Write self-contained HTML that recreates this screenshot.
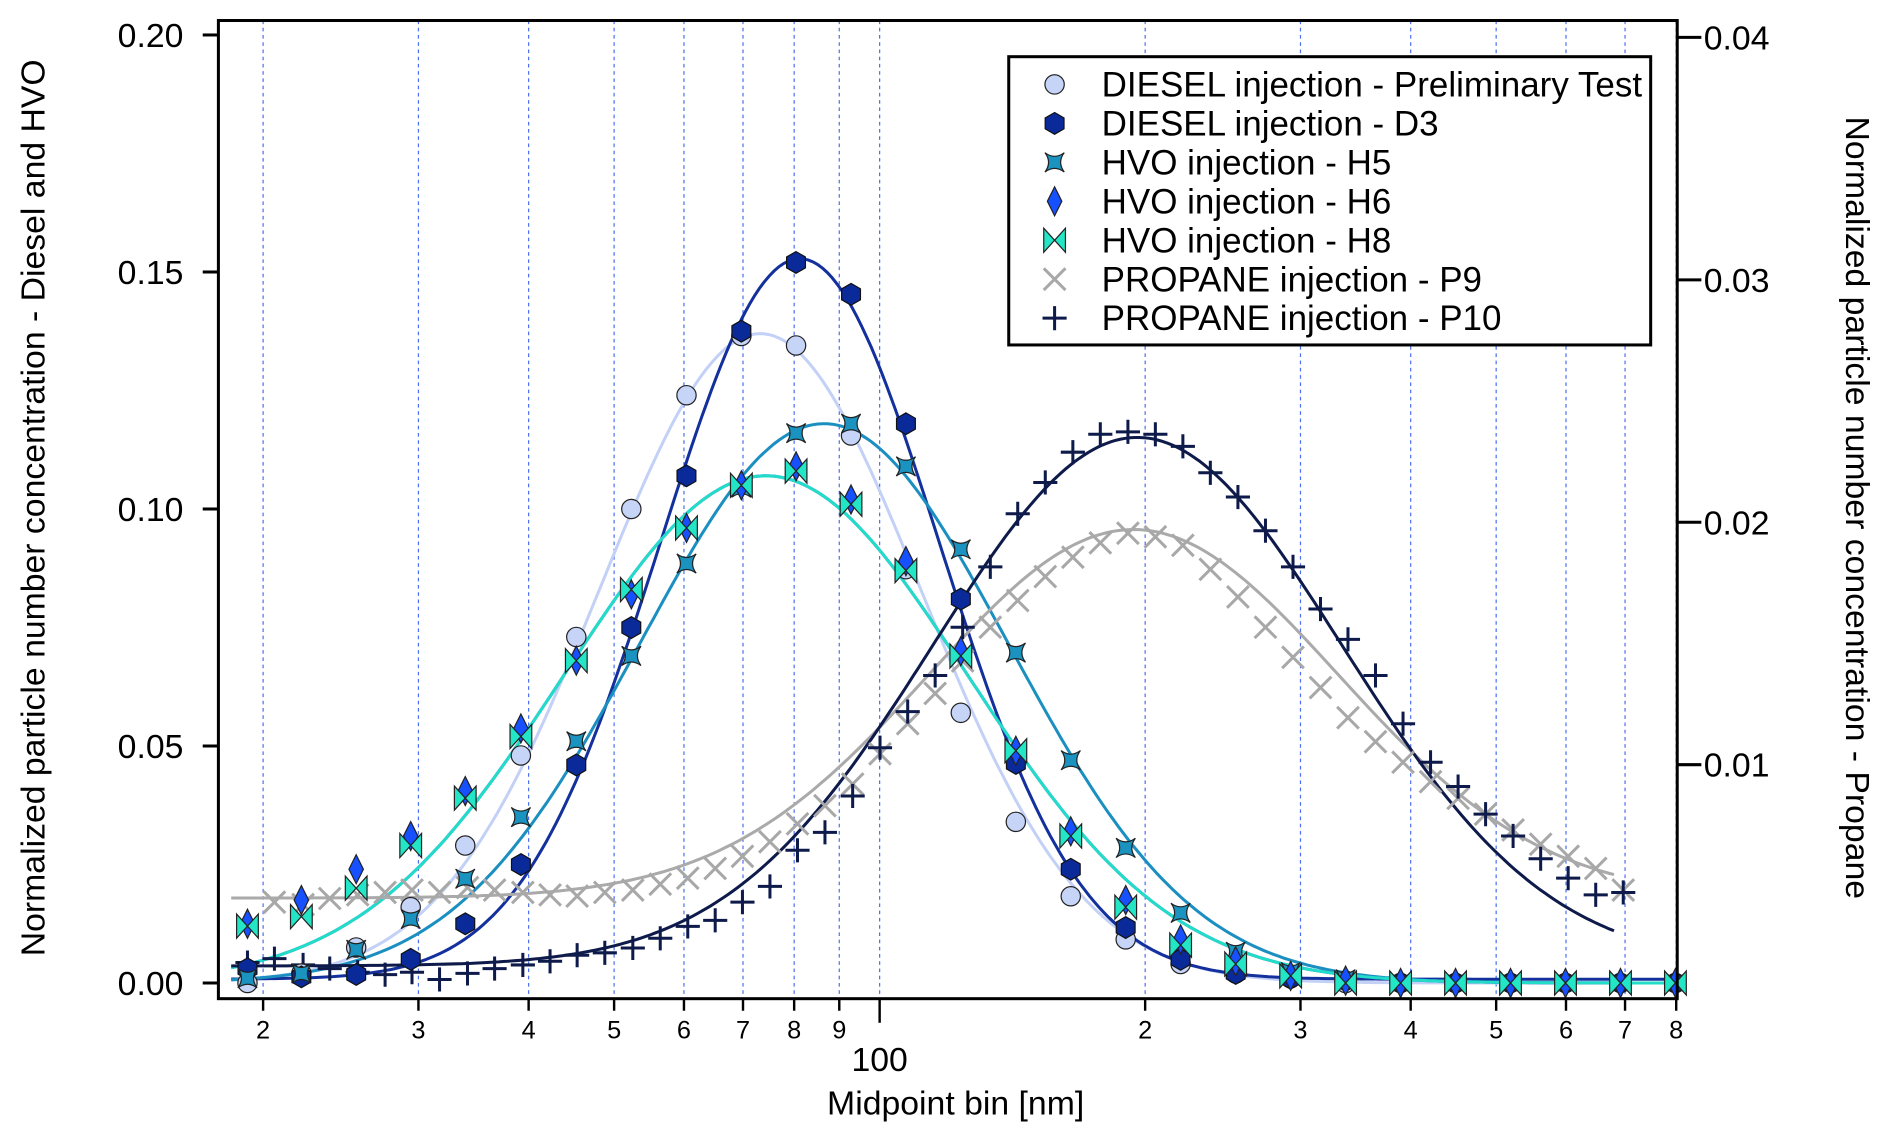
<!DOCTYPE html>
<html><head><meta charset="utf-8"><style>
html,body{margin:0;padding:0;background:#fff;}
svg{display:block;font-family:"Liberation Sans",Arial,sans-serif;}
</style></head><body>
<svg id="chart" width="1892" height="1141" viewBox="0 0 1568 946" preserveAspectRatio="none" xmlns="http://www.w3.org/2000/svg">
<g id="grid"></g>
<g id="fits"></g>
<g id="marks"></g>
<g id="axes"></g>
<text transform="translate(37,421) rotate(-90)" text-anchor="middle" font-size="28">Normalized particle number concentration - Diesel and HVO</text>
<text transform="translate(1530,421) rotate(90)" text-anchor="middle" font-size="28">Normalized particle number concentration - Propane</text>
<text x="792" y="924" text-anchor="middle" font-size="28">Midpoint bin [nm]</text>
<g id="legend"></g>
</svg>
<script>
const NS="http://www.w3.org/2000/svg";
// ---- data ----
const bins=[19.2,22.1,25.5,29.4,33.9,39.2,45.3,52.3,60.4,69.7,80.4,92.8,107.1,123.6,142.7,164.7,190.1,219.4,253.3,292.4,337.5,389.6,449.7,519.1,599.2,691.7,798.4];
const prelim=[0.0,0.002,0.0075,0.016,0.029,0.048,0.073,0.100,0.124,0.1365,0.1345,0.1155,0.0873,0.057,0.034,0.0183,0.0092,0.004,0.002,0.001,0,0,0,0,0,0,0];
const d3=[0.003,0.0013,0.0018,0.005,0.0125,0.025,0.046,0.075,0.107,0.1375,0.152,0.1453,0.118,0.081,0.0463,0.024,0.0117,0.005,0.002,0.001,0.0005,0,0,0,0,0,0];
const h5=[0.001,0.002,0.007,0.0135,0.022,0.035,0.051,0.069,0.0885,0.1045,0.116,0.118,0.109,0.0915,0.0697,0.047,0.0285,0.0148,0.0066,0.0023,0.0008,0,0,0,0,0,0];
const h6=[0.0125,0.0175,0.024,0.031,0.0405,0.0537,0.068,0.082,0.096,0.105,0.109,0.102,0.089,0.070,0.049,0.032,0.0175,0.0092,0.0046,0.0015,0.0005,0,0,0,0,0,0];
const h8=[0.012,0.014,0.020,0.029,0.039,0.052,0.068,0.083,0.096,0.105,0.108,0.101,0.087,0.069,0.049,0.031,0.016,0.008,0.004,0.0015,0,0,0,0,0,0,0];
const propBins=[19.2,20.6,22.2,23.8,25.6,27.5,29.5,31.7,34.1,36.6,39.4,42.3,45.4,48.8,52.5,56.4,60.6,65.1,69.9,75.1,80.7,86.7,93.2,100.1,107.6,115.6,124.2,133.5,143.4,154.1,165.6,177.9,191.2,205.4,220.7,237.1,254.8,273.8,294.2,316.1,339.6,364.9,392.1,421.3,452.7,486.4,522.6,561.6,603.4,648.4,696.7];
const p9=[null,4.33,4.23,4.48,4.63,4.73,4.83,4.73,4.93,4.83,4.73,4.63,4.58,4.73,4.83,5.07,5.32,5.72,6.22,6.82,7.56,8.31,9.20,10.45,11.69,12.94,14.28,15.67,16.77,17.76,18.56,19.15,19.55,19.40,19.05,18.06,16.92,15.67,14.43,13.18,11.94,10.95,10.10,9.30,8.61,7.96,7.31,6.72,6.22,5.72,4.83]; // x1e-3
const p10=[1.84,2.0,1.74,1.59,1.44,1.34,1.44,1.14,1.39,1.59,1.74,1.89,2.14,2.24,2.44,2.84,3.33,3.58,4.33,4.98,6.47,7.21,8.71,10.70,12.19,13.68,15.67,18.16,20.35,21.64,22.89,23.63,23.73,23.63,23.13,22.04,21.04,19.65,18.16,16.42,15.17,13.68,11.69,10.10,9.10,7.96,7.06,6.12,5.32,4.63,4.73]; // x1e-3
// log-normal fit parameters: amplitude, mode (nm), sigma (log10), baseline
const fitNames=["prelim","d3","h5","h6","h8","p9","p10"];
const fitAmp=[0.137,0.152,0.118,0.107,0.107,0.0152,0.0218];
const fitMode=[73.2,81.2,86.5,74.3,74.3,194,196];
const fitSigma=[0.182,0.158,0.209,0.229,0.229,0.232,0.232];
const fitBase=[0,0.0008,0,0,0,0.0045,0.0017];
const leftTicks=[0,0.05,0.10,0.15,0.20];
const leftTickLabels=["0.00","0.05","0.10","0.15","0.20"];
const rightTicks=[0.01,0.02,0.03,0.04];
const rightTickLabels=["0.01","0.02","0.03","0.04"];
const minorTicks=[20,30,40,50,60,70,80,90,200,300,400,500,600,700,800];
const minorLabels=["2","3","4","5","6","7","8","9","2","3","4","5","6","7","8"];
// ---- scales ----
const X0=181,X1=1390,YT=17,YB=828;
const xs=v=>729+731*Math.log10(v/100);
const yl=v=>815-v*3930;
const yr=v=>835-v*20100;
function el(tag,attrs,parent){const e=document.createElementNS(NS,tag);for(const k in attrs)e.setAttribute(k,attrs[k]);parent.appendChild(e);return e;}
const grid=document.getElementById('grid'),fits=document.getElementById('fits'),marks=document.getElementById('marks'),axes=document.getElementById('axes'),legend=document.getElementById('legend');
// grid
[...minorTicks,100].forEach(v=>{const l=el('line',{x1:xs(v),x2:xs(v),y1:YT,y2:YB,stroke:'#4a70f0','stroke-width':1,'stroke-dasharray':'3,3'},grid);

});
// fits
const fitColors=['#c3d1f7','#13309c','#1b8fc0','#2244e6','#22dcc8','#aaaaaa','#0d1a4a'];
fitNames.forEach((n,i)=>{
  const isP=i>=5;const lo=18.4, hi=isP?680:820;
  let d='';
  for(let k=0;k<=300;k++){const lv=Math.log10(lo)+(Math.log10(hi)-Math.log10(lo))*k/300;const v=Math.pow(10,lv);
    const val=fitBase[i]+fitAmp[i]*Math.exp(-Math.pow(lv-Math.log10(fitMode[i]),2)/(2*fitSigma[i]*fitSigma[i]));
    const y=isP?yr(val):yl(val);d+=(k?'L':'M')+xs(v).toFixed(1)+','+y.toFixed(1);}
  const p=el('path',{d:d,fill:'none',stroke:fitColors[i],'stroke-width':2.5},fits);
  
  
});
// marker shapes
function marker(type,x,y,parent){
  let e;
  if(type==='circle'){e=el('circle',{cx:x,cy:y,r:8,fill:'#c5d4f7',stroke:'#222','stroke-width':1},parent);}
  else if(type==='hex'){let pts=[];for(let k=0;k<6;k++){const a=Math.PI/3*k-Math.PI/2;pts.push((x+9*Math.cos(a)).toFixed(1)+','+(y+9*Math.sin(a)).toFixed(1));}
    e=el('polygon',{points:pts.join(' '),fill:'#0a2a99',stroke:'#111','stroke-width':1},parent);}
  else if(type==='star'){e=el('path',{d:`M${x-8},${y-8} Q${x},${y-2} ${x+8},${y-8} Q${x+2},${y} ${x+8},${y+8} Q${x},${y+2} ${x-8},${y+8} Q${x-2},${y} ${x-8},${y-8}Z`,fill:'#1a93c0',stroke:'#222','stroke-width':1},parent);}
  else if(type==='diamond'){e=el('polygon',{points:`${x},${y-12} ${x+6},${y} ${x},${y+12} ${x-6},${y}`,fill:'#1650ff',stroke:'#222','stroke-width':1},parent);}
  else if(type==='bowtie'){e=el('path',{d:`M${x-9},${y-10} L${x+9},${y+10} L${x+9},${y-10} L${x-9},${y+10}Z`,fill:'#22e6c6',stroke:'#222','stroke-width':1},parent);}
  else if(type==='x'){e=el('path',{d:`M${x-9},${y-9}L${x+9},${y+9}M${x+9},${y-9}L${x-9},${y+9}`,stroke:'#a8a8a8','stroke-width':2.5,fill:'none'},parent);}
  else if(type==='plus'){e=el('path',{d:`M${x-10},${y}L${x+10},${y}M${x},${y-10}L${x},${y+10}`,stroke:'#0d1a4a','stroke-width':2.5,fill:'none'},parent);}
  return e;
}
// propane markers
propBins.forEach((b,i)=>{if(p9[i]!==null){const m=marker('x',xs(b),yr(p9[i]/1000),marks);
  
  }});
propBins.forEach((b,i)=>{const m=marker('plus',xs(b),yr(p10[i]/1000),marks);
  
  });
const series=[[prelim,'circle','prelim'],[d3,'hex','d3'],[h5,'star','h5'],[h6,'diamond','h6'],[h8,'bowtie','h8']];
series.forEach(s=>{bins.forEach((b,i)=>{const m=marker(s[1],xs(b),yl(s[0][i]),marks);
  
  });});
// axes
el('rect',{x:X0,y:YT,width:X1-X0,height:YB-YT,fill:'none',stroke:'#000','stroke-width':2.5},axes);
leftTicks.forEach((v,i)=>{el('line',{x1:X0-13,x2:X0,y1:yl(v),y2:yl(v),stroke:'#000','stroke-width':2.5},axes);
  const t=el('text',{x:X0-29,y:yl(v)+10,'text-anchor':'end','font-size':28},axes);t.textContent=leftTickLabels[i];
  
  });
rightTicks.forEach((v,i)=>{el('line',{x1:X1,x2:X1+20,y1:yr(v),y2:yr(v),stroke:'#000','stroke-width':2.5},axes);
  const t=el('text',{x:X1+22,y:yr(v)+10,'font-size':28},axes);t.textContent=rightTickLabels[i];
  
  });
minorTicks.forEach((v,i)=>{el('line',{x1:xs(v),x2:xs(v),y1:YB,y2:YB+10,stroke:'#000','stroke-width':2},axes);
  const t=el('text',{x:xs(v),y:YB+33,'text-anchor':'middle','font-size':21},axes);t.textContent=minorLabels[i];
  
  });
el('line',{x1:xs(100),x2:xs(100),y1:YB,y2:YB+20,stroke:'#000','stroke-width':2},axes);
const t100=el('text',{x:xs(100),y:888,'text-anchor':'middle','font-size':28},axes);t100.textContent='100';


// legend
el('rect',{x:836,y:47,width:532,height:239,fill:'#fff',stroke:'#000','stroke-width':2.5},legend);
const legTypes=['circle','hex','star','diamond','bowtie','x','plus'];
const legLabels=['DIESEL injection - Preliminary Test','DIESEL injection - D3','HVO injection - H5','HVO injection - H6','HVO injection - H8','PROPANE injection - P9','PROPANE injection - P10'];
legLabels.forEach((lab,i)=>{const y=70+i*32.3;const m=marker(legTypes[i],874,y,legend);
  
  
  const t=el('text',{x:913,y:y+10,'font-size':29},legend);t.textContent=lab;
  
  });
</script>
</body></html>
